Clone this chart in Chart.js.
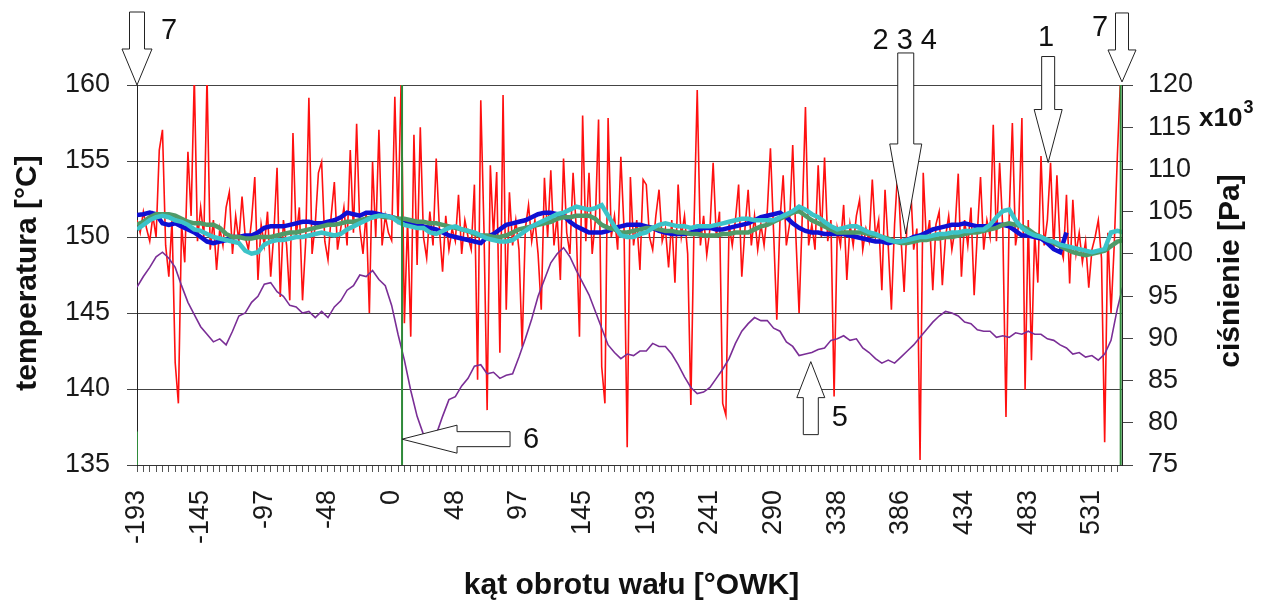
<!DOCTYPE html>
<html lang="pl">
<head>
<meta charset="utf-8">
<title>temperatura i ciśnienie</title>
<script src="https://cdn.jsdelivr.net/npm/chart.js@4.4.0/dist/chart.umd.min.js"></script>
<style>
  html, body { margin: 0; padding: 0; background: #fff; }
  #wrap { width: 1274px; height: 607px; }
</style>
</head>
<body>
<div id="wrap"><canvas id="wykres" width="1274" height="607"></canvas></div>
<script>
// kąt obrotu wału - siatka próbek
const angleStart = -193;
const angleStep = 4.828;
const angleMax = 554;
const tickLabels = [-193, -145, -97, -48, 0, 48, 97, 145, 193, 241, 290, 338, 386, 434, 483, 531];

// ciśnienie x10^3 Pa (próbki co pół kroku)
const pressure = [
  104.0, 102.5, 105.0, 103.0, 101.5, 104.5, 102.0, 112.3, 114.7, 101.0,
  97.3, 104.0, 87.1, 82.3, 103.5, 99.0, 112.1, 104.5, 121, 101.5,
  105.5, 102.0, 121, 100.5, 104.0, 98.1, 103.0, 101.0, 105.5, 107.3,
  100.0, 104.5, 101.5, 106.8, 102.0, 100.5, 104.0, 109.1, 96.9, 103.5,
  101.0, 105.0, 97.3, 102.5, 110.2, 94.9, 104.0, 101.0, 94.5, 114.3,
  102.0, 105.5, 94.5, 101.5, 118.5, 100.0, 103.5, 109.6, 110.9, 101.5,
  99.3, 104.5, 108.5, 100.5, 103.0, 105.5, 101.0, 112.3, 102.5, 115.4,
  103.0, 100.0, 105.0, 93.0, 110.9, 102.0, 114.7, 101.0, 104.5, 102.5,
  101.6, 118.6, 103.5, 121, 91.8, 104.0, 90.2, 114.1, 98.7, 115.0,
  102.0, 99.5, 105.0, 101.0, 111.3, 103.0, 97.9, 104.5, 100.5, 103.0,
  101.5, 107.0, 100.0, 104.0, 102.0, 100.5, 108.2, 85.1, 118.2, 103.0,
  81.5, 110.5, 102.0, 109.7, 88.3, 118.8, 93.4, 107.3, 101.0, 104.0,
  100.5, 89.0, 103.0, 105.8, 101.5, 104.0, 100.0, 93.4, 109.0, 102.0,
  109.9, 101.0, 104.5, 96.9, 111.3, 102.5, 100.0, 109.6, 103.0, 90.2,
  116.4, 101.5, 109.6, 100.0, 104.0, 115.9, 86.6, 82.3, 116.1, 102.0,
  104.5, 100.5, 111.5, 103.0, 77.1, 109.1, 101.0, 104.0, 98.1, 108.8,
  108.2, 102.0, 100.5, 104.5, 107.6, 101.5, 103.0, 98.4, 104.0, 96.6,
  108.2, 102.0, 104.5, 100.0, 82.1, 103.5, 119.4, 101.0, 104.5, 99.9,
  103.0, 110.8, 102.0, 105.0, 82.3, 80.9, 103.5, 101.0, 104.0, 108.2,
  97.3, 103.0, 107.6, 101.0, 104.5, 100.5, 103.5, 101.0, 105.0, 112.5,
  102.5, 92.2, 104.0, 109.3, 101.0, 103.5, 112.9, 102.0, 93.0, 104.5,
  117.4, 101.0, 103.5, 100.5, 110.5, 102.0, 111.4, 101.5, 104.0, 83.1,
  103.0, 101.0, 105.8, 96.9, 103.5, 101.0, 104.5, 106.4, 100.5, 103.0,
  101.5, 108.8, 102.0, 104.0, 95.7, 107.6, 101.0, 93.4, 103.5, 109.9,
  102.0, 95.5, 104.5, 108.4, 100.5, 103.0, 75.6, 109.6, 101.5, 104.0,
  95.7, 103.5, 105.0, 96.3, 102.0, 104.5, 100.5, 103.0, 109.5, 97.3,
  104.0, 101.0, 105.5, 95.1, 102.5, 109.1, 100.5, 104.0, 102.0, 115.3,
  101.5, 110.8, 103.0, 80.7, 104.5, 115.5, 101.0, 103.5, 116.1, 83.9,
  104.0, 87.4, 102.5, 96.6, 111.6, 101.0, 104.0, 110.8, 100.5, 109.3,
  101.0, 99.5, 107.0, 96.5, 106.4, 100.0, 102.5, 99.0, 101.5, 96.0,
  100.5, 102.0, 104.0, 99.5, 77.7, 102.5, 93.0, 101.0, 111.7, 121
];

// temperatury [°C]
const tempPurple = [
  146.7, 147.4, 148.0, 148.7, 149.0, 148.6, 148.0, 146.8, 145.7, 144.9,
  144.1, 143.6, 143.1, 143.3, 142.9, 143.8, 144.8, 145.0, 145.7, 146.1,
  146.9, 147.0, 146.4, 146.1, 145.5, 145.4, 145.0, 145.1, 144.7, 145.1,
  144.7, 145.4, 145.8, 146.5, 146.8, 147.5, 147.4, 147.8, 147.2, 146.8,
  145.5, 143.6, 141.9, 139.9, 138.2, 137.0, 136.3, 137.0, 138.2, 139.3,
  139.5, 140.2, 140.7, 141.5, 141.6, 141.0, 141.1, 140.7, 140.9, 141.0,
  142.1, 143.3, 144.6, 146.1, 147.2, 148.3, 148.9, 149.3, 148.7, 147.8,
  147.0, 146.2, 145.1, 144.0, 142.9, 142.4, 142.0, 142.3, 142.2, 142.5,
  142.5, 143.0, 142.8, 142.8, 142.3, 141.6, 140.8, 140.1, 139.7, 139.8,
  140.1, 140.7, 141.3, 142.0, 143.0, 143.8, 144.3, 144.7, 144.5, 144.5,
  144.0, 143.8, 143.1, 142.8, 142.2, 142.3, 142.4, 142.6, 142.7, 143.2,
  143.3, 143.5, 143.2, 143.3, 142.7, 142.4, 142.0, 141.7, 141.9, 141.7,
  142.1, 142.5, 142.9, 143.4, 143.9, 144.4, 144.8, 145.1, 145.0, 144.8,
  144.4, 144.3, 143.9, 143.8, 143.8, 143.4, 143.5, 143.4, 143.7, 143.6,
  143.8, 143.6, 143.6, 143.3, 143.2, 142.9, 142.7, 142.3, 142.4, 142.1,
  142.2, 141.9, 142.3, 143.2, 145.3, 147.0
];
const tempBlue = [
  151.45, 151.5, 151.6, 151.5, 150.9, 150.8, 150.9, 150.7, 150.5, 150.3,
  150.0, 149.7, 149.6, 149.7, 149.8, 150.0, 150.0, 150.1, 150.1, 150.3,
  150.6, 150.7, 150.7, 150.7, 150.8, 150.9, 151.0, 151.0, 150.9, 150.9,
  151.0, 151.1, 151.3, 151.6, 151.5, 151.4, 151.6, 151.6, 151.5, 151.4,
  151.3, 151.2, 151.0, 150.9, 150.8, 150.7, 150.6, 150.5, 150.3, 150.1,
  150.0, 149.9, 149.8, 149.7, 149.6, 150.0, 150.2, 150.5, 150.8, 150.9,
  151.0, 151.1, 151.3, 151.5, 151.6, 151.6, 151.5, 151.4, 151.0, 150.7,
  150.5, 150.3, 150.3, 150.3, 150.4, 150.6, 150.7, 150.8, 150.8, 150.8,
  150.7, 150.6, 150.4, 150.3, 150.2, 150.2, 150.2, 150.3, 150.4, 150.6,
  150.6, 150.5, 150.5, 150.6, 150.7, 150.8, 150.9, 151.1, 151.3, 151.4,
  151.5, 151.6, 151.3, 150.9, 150.6, 150.4, 150.3, 150.3, 150.2, 150.2,
  150.2, 150.2, 150.1, 150.0, 149.9, 149.8, 149.7, 149.7, 149.6, 149.7,
  149.7, 149.8, 150.0, 150.1, 150.3, 150.5, 150.6, 150.7, 150.8, 150.8,
  150.9, 150.8, 150.7, 150.7, 150.7, 150.8, 150.8, 150.7, 150.4, 150.1,
  150.1, 150.0, 149.9, 149.6, 149.2, 149.0, 150.3
];
const tempGreen = [
  150.8, 151.0, 151.3, 151.5, 151.5, 151.5, 151.4, 151.2, 151.0, 150.9,
  150.9, 150.8, 150.8, 150.6, 150.2, 150.0, 150.0, 149.9, 149.9, 150.0,
  150.0, 150.0, 150.1, 150.2, 150.3, 150.3, 150.4, 150.5, 150.6, 150.7,
  150.8, 150.8, 150.9, 151.0, 151.0, 151.1, 151.2, 151.3, 151.4, 151.3,
  151.3, 151.2, 151.2, 151.1, 151.0, 151.0, 150.9, 150.9, 150.8, 150.7,
  150.6, 150.5, 150.4, 150.2, 150.1, 150.1, 150.0, 150.0, 150.1, 150.3,
  150.5, 150.6, 150.7, 150.8, 150.9, 151.0, 151.2, 151.3, 151.3, 151.4,
  151.4, 151.4, 151.2, 150.8, 150.6, 150.5, 150.3, 150.3, 150.4, 150.5,
  150.6, 150.6, 150.5, 150.4, 150.4, 150.3, 150.3, 150.2, 150.2, 150.1,
  150.1, 150.1, 150.2, 150.2, 150.3, 150.3, 150.3, 150.5, 150.7, 150.8,
  151.0, 151.2, 151.4, 151.6, 151.7, 151.4, 151.1, 150.9, 150.7, 150.5,
  150.3, 150.3, 150.3, 150.3, 150.3, 150.2, 150.1, 150.0, 149.9, 149.7,
  149.6, 149.6, 149.7, 149.8, 149.8, 149.9, 149.9, 150.0, 150.0, 150.1,
  150.2, 150.3, 150.3, 150.4, 150.5, 150.6, 150.8, 150.9, 150.8, 150.7,
  150.5, 150.2, 150.0, 149.8, 149.6, 149.4, 149.2, 149.0, 148.9, 148.8,
  148.9, 149.0, 149.1, 149.4, 149.7, 149.8
];
const tempCyan = [
  150.5, 150.8, 151.1, 151.3, 151.4, 151.3, 151.1, 151.0, 150.8, 150.5,
  150.4, 150.2, 150.0, 149.9, 149.8, 149.7, 149.6, 149.1, 148.9, 149.0,
  149.5, 149.7, 149.8, 149.8, 149.9, 150.0, 150.0, 150.1, 150.2, 150.3,
  150.2, 150.1, 150.2, 150.5, 150.7, 150.9, 151.1, 151.3, 151.4, 151.4,
  151.3, 151.0, 150.8, 150.7, 150.6, 150.6, 150.3, 150.2, 150.4, 150.6,
  150.7, 150.5, 150.4, 150.3, 150.1, 149.9, 149.8, 149.7, 149.7, 149.8,
  150.1, 150.4, 150.7, 150.9, 151.1, 151.3, 151.5, 151.6, 151.8, 152.0,
  151.9, 151.8, 151.9, 152.1, 151.4, 150.7, 150.1, 150.0, 150.0, 150.2,
  150.3, 150.6, 150.8, 150.9, 150.8, 150.7, 150.7, 150.6, 150.7, 150.7,
  150.7, 150.8, 150.9, 151.0, 151.1, 151.2, 151.2, 151.1, 151.1, 151.1,
  151.1, 151.3, 151.5, 151.7, 152.0, 151.8, 151.5, 151.3, 151.0, 150.7,
  150.5, 150.6, 150.7, 150.7, 150.5, 150.3, 150.2, 150.0, 149.8, 149.7,
  149.7, 149.8, 149.9, 150.0, 150.0, 150.1, 150.2, 150.2, 150.3, 150.3,
  150.4, 150.4, 150.5, 150.5, 150.8, 151.3, 151.7, 151.8, 151.1, 150.6,
  150.3, 150.1, 150.0, 149.8, 149.7, 149.5, 149.4, 149.3, 149.2, 149.1,
  149.0, 149.1, 149.2, 150.3, 150.4, 150.3
];

// znaczniki (zielone linie pionowe)
const markerAngles = [-193, 8, 553];
const markerTops = [137.2, 160, 160];

// strzałki z opisami
const arrows = [
  { label: '7', angle: -193, value: 160, dir: 'down', len: 73, head: 36, half: 15, shaft: 7.5, dx: 32, dy: -54 },
  { label: '7', angle: 554, value: 160.2, dir: 'down', len: 69, head: 32, half: 14, shaft: 6.5, dx: -22, dy: -54 },
  { label: '2 3 4', angle: 390, value: 150.2, dir: 'down', len: 181, head: 90, half: 16, shaft: 8, dx: -1, dy: -193 },
  { label: '1', angle: 498, value: 154.9, dir: 'down', len: 106, head: 53, half: 14, shaft: 6.5, dx: -2, dy: -125 },
  { label: '5', angle: 318, value: 141.8, dir: 'up', len: 73, head: 36, half: 14, shaft: 7.5, dx: 29, dy: 56 },
  { label: '6', angle: 8, value: 136.7, dir: 'left', len: 108, head: 55, half: 14, shaft: 7.5, dx: 129, dy: 1 }
];

const fontFam = '"Liberation Sans", Arial, sans-serif';

const toPoints = (arr, step) => arr.map((v, i) => ({ x: angleStart + i * step, y: v }));
const tickGrid = Array.from({ length: 155 }, (_, i) => angleStart + i * angleStep);

const lineDs = (label, data, color, width, axis, order) => ({
  label, data, borderColor: color, borderWidth: width, yAxisID: axis, order,
  pointRadius: 0, tension: 0, fill: false
});

const datasets = [
  ...markerAngles.map((a, i) => lineDs('znacznik', [{ x: a, y: 135 }, { x: a, y: markerTops[i] }], '#2f8a3a', 2, 'y', 0)),
  lineDs('T4', toPoints(tempCyan, angleStep), '#3cc3c8', 4.5, 'y', 1),
  lineDs('T3', toPoints(tempGreen, angleStep), '#4f9a68', 4.5, 'y', 2),
  lineDs('T2', toPoints(tempBlue, angleStep), '#0f0fd2', 4.5, 'y', 3),
  lineDs('T5', toPoints(tempPurple, angleStep), '#7a2e96', 1.6, 'y', 4),
  lineDs('p', toPoints(pressure, angleStep / 2), '#ff1010', 1.6, 'y2', 5)
];

const arrowPoly = (u, v, tx, ty, dir) => {
  if (dir === 'down') return [tx + v, ty - u];
  if (dir === 'up') return [tx + v, ty + u];
  return [tx + u, ty + v];
};

const extras = {
  id: 'extras',
  afterDraw(chart) {
    const { ctx, chartArea, scales } = chart;
    const sx = scales.x, sy = scales.y, sy2 = scales.y2;
    ctx.save();

    // strzałki
    arrows.forEach(a => {
      const tx = sx.getPixelForValue(a.angle);
      const ty = sy.getPixelForValue(a.value);
      const pts = [[0, 0], [a.head, -a.half], [a.head, -a.shaft], [a.len, -a.shaft],
                   [a.len, a.shaft], [a.head, a.shaft], [a.head, a.half]];
      ctx.beginPath();
      pts.forEach(([u, v], i) => {
        const [px, py] = arrowPoly(u, v, tx, ty, a.dir);
        if (i === 0) ctx.moveTo(px, py); else ctx.lineTo(px, py);
      });
      ctx.closePath();
      ctx.fillStyle = '#fff';
      ctx.fill();
      ctx.lineWidth = 1;
      ctx.strokeStyle = '#222';
      ctx.stroke();

      ctx.fillStyle = '#111';
      ctx.font = '29px ' + fontFam;
      ctx.textAlign = 'center';
      ctx.textBaseline = 'middle';
      ctx.fillText(a.label, tx + a.dx, ty + a.dy);
    });

    // tytuły osi
    ctx.fillStyle = '#111';
    ctx.font = 'bold 30px ' + fontFam;
    ctx.textAlign = 'center';
    ctx.textBaseline = 'middle';
    const midY = (chartArea.top + chartArea.bottom) / 2;

    ctx.save();
    ctx.translate(sy.left + 28, midY - 2);
    ctx.rotate(-Math.PI / 2);
    ctx.fillText('temperatura [°C]', 0, 0);
    ctx.restore();

    ctx.save();
    ctx.translate(sy2.right - 43, midY - 4);
    ctx.rotate(-Math.PI / 2);
    ctx.fillText('ciśnienie [Pa]', 0, 0);
    ctx.restore();

    ctx.fillText('kąt obrotu wału [°OWK]', (chartArea.left + chartArea.right) / 2 + 2, sx.bottom - 21);

    // x10^3
    const ux = sy2.left + 77;
    const uy = sy2.getPixelForValue(115) - 8;
    ctx.textAlign = 'left';
    ctx.font = 'bold 26px ' + fontFam;
    ctx.fillText('x10', ux, uy);
    const w = ctx.measureText('x10').width;
    ctx.font = 'bold 18px ' + fontFam;
    ctx.fillText('3', ux + w + 1, uy - 11);

    ctx.restore();
  }
};

new Chart(document.getElementById('wykres'), {
  type: 'line',
  data: { datasets },
  plugins: [extras],
  options: {
    responsive: false,
    animation: false,
    layout: { padding: { top: 85, left: 0, right: 0, bottom: 0 } },
    plugins: { legend: { display: false }, tooltip: { enabled: false } },
    scales: {
      x: {
        type: 'linear',
        min: angleStart,
        max: angleMax,
        afterBuildTicks: s => { s.ticks = tickGrid.map(v => ({ value: v })); },
        afterFit: s => { s.height = 142; },
        grid: { drawOnChartArea: false, drawTicks: true, tickLength: 7, color: '#555' },
        border: { display: true, color: '#333' },
        ticks: {
          autoSkip: false, minRotation: 90, maxRotation: 90, padding: 18,
          color: '#1a1a1a', font: { size: 27, family: fontFam },
          callback: (v, i) => (i % 10 === 0 && tickLabels[i / 10] !== undefined) ? String(tickLabels[i / 10]) : ''
        }
      },
      y: {
        position: 'left',
        min: 135,
        max: 160,
        afterFit: s => { s.width = 137; },
        grid: { color: '#444', tickLength: 10, drawTicks: true },
        border: { display: true, color: '#222' },
        ticks: { stepSize: 5, padding: 17, color: '#1a1a1a', font: { size: 27, family: fontFam } }
      },
      y2: {
        position: 'right',
        min: 75,
        max: 120,
        afterFit: s => { s.width = 152; },
        grid: { drawOnChartArea: false, tickLength: 11, color: '#444' },
        border: { display: true, color: '#222' },
        ticks: { stepSize: 5, padding: 15, color: '#1a1a1a', font: { size: 27, family: fontFam } }
      }
    }
  }
});
</script>
</body>
</html>
